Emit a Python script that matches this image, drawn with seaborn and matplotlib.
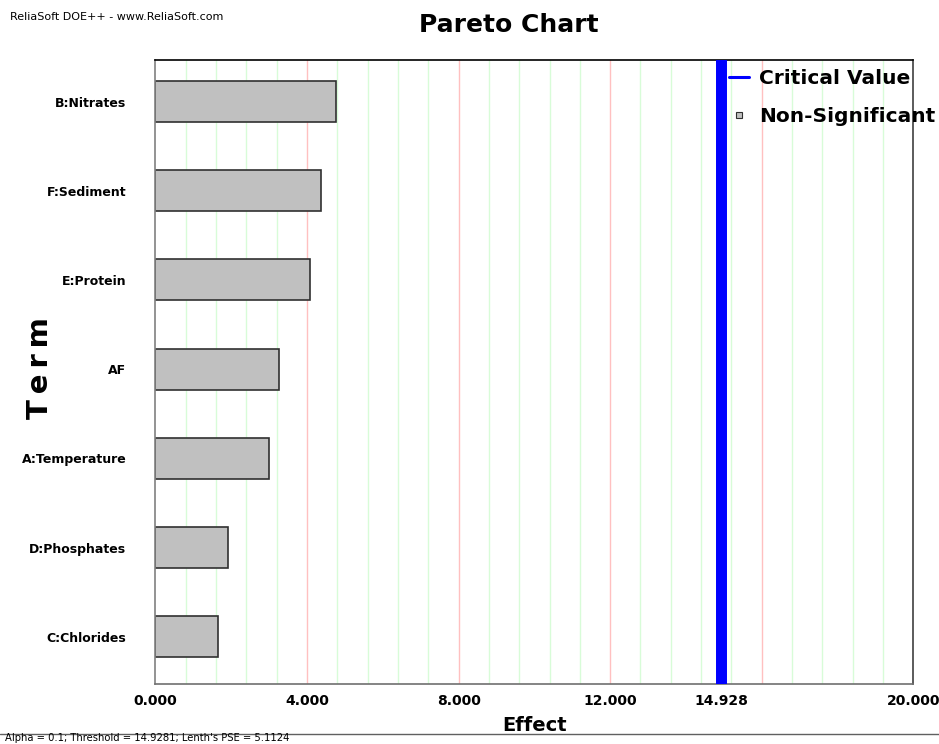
import numpy as np
import pandas as pd
import matplotlib
matplotlib.use("Agg")
import matplotlib.pyplot as plt
from matplotlib.lines import Line2D
import seaborn as sns

# Effects of each term, largest first
terms = ["B:Nitrates", "F:Sediment", "E:Protein", "AF",
         "A:Temperature", "D:Phosphates", "C:Chlorides"]
effects = [4.76, 4.36, 4.09, 3.27, 3.00, 1.91, 1.65]
critical_value = 14.928
x_ticks = [0.0, 4.0, 8.0, 12.0, critical_value, 20.0]
footer = "Alpha = 0.1; Threshold = 14.9281; Lenth's PSE = 5.1124"
header = "ReliaSoft DOE++ - www.ReliaSoft.com"

sns.set_style("white")
plt.rcParams["font.family"] = ["DejaVu Sans"]
plt.rcParams["text.color"] = "black"
plt.rcParams["axes.labelcolor"] = "black"
plt.rcParams["xtick.labelcolor"] = "black"
plt.rcParams["ytick.labelcolor"] = "black"

df = pd.DataFrame({"Term": terms, "Effect": effects})

fig = plt.figure(figsize=(9.39, 7.44), dpi=100)
ax = fig.add_axes([0.1655, 0.0806, 0.8072, 0.8387])

# light vertical grid: green every 0.8, red every 4
for v in np.arange(0.8, 20.0, 0.8):
    if abs(v / 4 - round(v / 4)) < 1e-6:
        continue
    ax.axvline(v, color="#d8fcd8", lw=1.0, zorder=0)
for v in [4, 8, 12, 16]:
    ax.axvline(v, color="#ffc0c0", lw=1.0, zorder=0)

sns.barplot(data=df, x="Effect", y="Term", orient="h", color="#C0C0C0",
            saturation=1, edgecolor="#303030", linewidth=1.2, width=0.46,
            ax=ax, zorder=2)

ax.axvline(critical_value, color="#0000FF", lw=7.9, zorder=3)

ax.set_xlim(0, 20)
ax.set_ylim(6.53, -0.465)
ax.set_xticks(x_ticks)
ax.set_xticklabels([f"{v:.3f}" for v in x_ticks], fontsize=10, fontweight="bold")
ax.tick_params(axis="x", length=0, pad=7)
ax.tick_params(axis="y", length=4, color="#ffb0b0", pad=17)
for lab in ax.get_yticklabels():
    lab.set_fontsize(9)
    lab.set_fontweight("bold")

ax.set_xlabel("Effect", fontsize=14, fontweight="bold", labelpad=6)
ax.set_ylabel("")
fig.text(40 / 939, 1 - 368 / 744, "T\u2009e\u2009r\u2009m", rotation=90,
         fontsize=21, fontweight="bold", ha="center", va="center")

for side, col in [("left", "#808080"), ("bottom", "#707070"),
                  ("top", "#000000"), ("right", "#404040")]:
    ax.spines[side].set_color(col)
    ax.spines[side].set_linewidth(1.2)
    ax.spines[side].set_visible(True)

fig.text(509 / 939, 1 - 25 / 744, "Pareto Chart", fontsize=18,
         fontweight="bold", ha="center", va="center")
fig.text(10 / 939, 1 - 17 / 744, header, fontsize=8, ha="left", va="center")

handles = [Line2D([], [], color="#0000FF", lw=2.2),
           Line2D([], [], ls="none", marker="s", ms=4,
                  mfc="#C0C0C0", mec="#303030", mew=0.8)]
ax.legend(handles, ["Critical Value", "Non-Significant"], loc="upper left",
          bbox_to_anchor=(729 / 939, 1 - 69 / 744),
          bbox_transform=fig.transFigure, frameon=False,
          prop={"weight": "bold", "size": 14.5}, handlelength=1.0,
          handletextpad=0.5, labelspacing=0.95, borderpad=0,
          borderaxespad=0)

fig.add_artist(Line2D([0, 1], [1 - 734 / 744] * 2, transform=fig.transFigure,
                      color="#606060", lw=1.0))
fig.text(5 / 939, 1 - 741 / 744, footer, fontsize=7.2, ha="left",
         va="baseline")

fig.savefig("out.png", dpi=100)
